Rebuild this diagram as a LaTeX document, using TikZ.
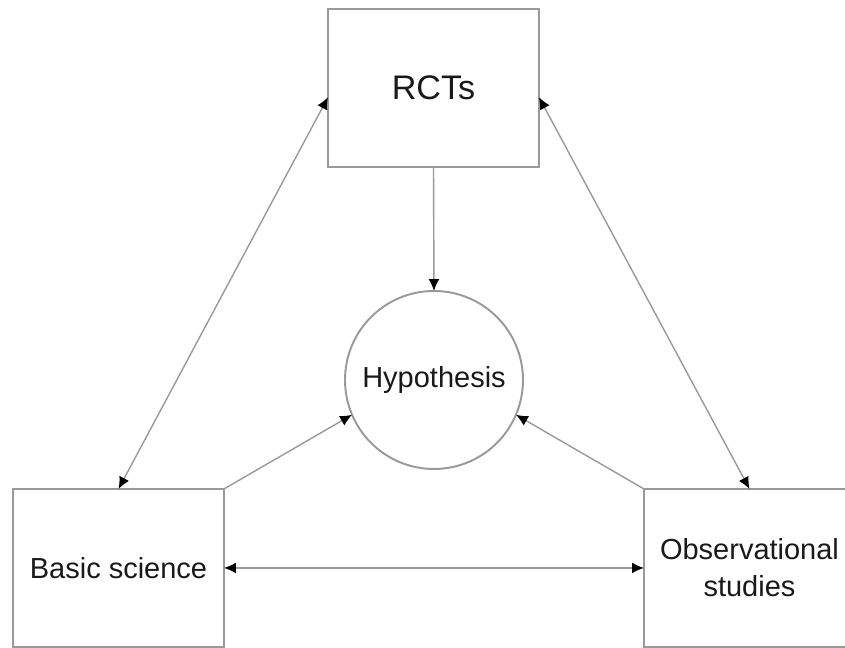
\documentclass[tikz,border=0pt]{standalone}
\usepackage{fontspec}
\setmainfont{Liberation Sans}
\usepackage{tikz}
\usetikzlibrary{arrows.meta}

\begin{document}
\begin{tikzpicture}
\tikzset{ >={Latex[length=3.4pt,width=3.1pt,black]}, inner sep=0pt, outer sep=0pt,
  box/.style={draw=gray!80, line width=0.55pt, minimum width=2.11cm, minimum height=1.58cm,
    align=center, text=black!90, font=\fontsize{8.25}{10.5}\selectfont},
  link/.style={draw=gray!80, line width=0.4pt},
}

\useasboundingbox (0,0) rectangle (8.45,6.48);

\node [box, font=\fontsize{9.7}{12}\selectfont] (R) at (4.335,5.60) {RCTs};
\node [box] (B) at (1.185,0.80) {Basic science};
\node [box] (O) at (7.495,0.80) {Observational\\studies};
\node [box, circle, minimum size=1.78cm] (H) at (4.34,2.68) {Hypothesis};

\draw [link, <->] (R.185) -- (B.north);
\draw [link, <->] (R.-5)  -- (O.north);
\draw [link, <->] (B.east) -- (O.west);

\draw [link, ->] (R.south) -- (H.north);
\draw [link, ->] (B.north east) -- (H.203);
\draw [link, ->] (O.north west) -- (H.-23);
\end{tikzpicture}
\end{document}
